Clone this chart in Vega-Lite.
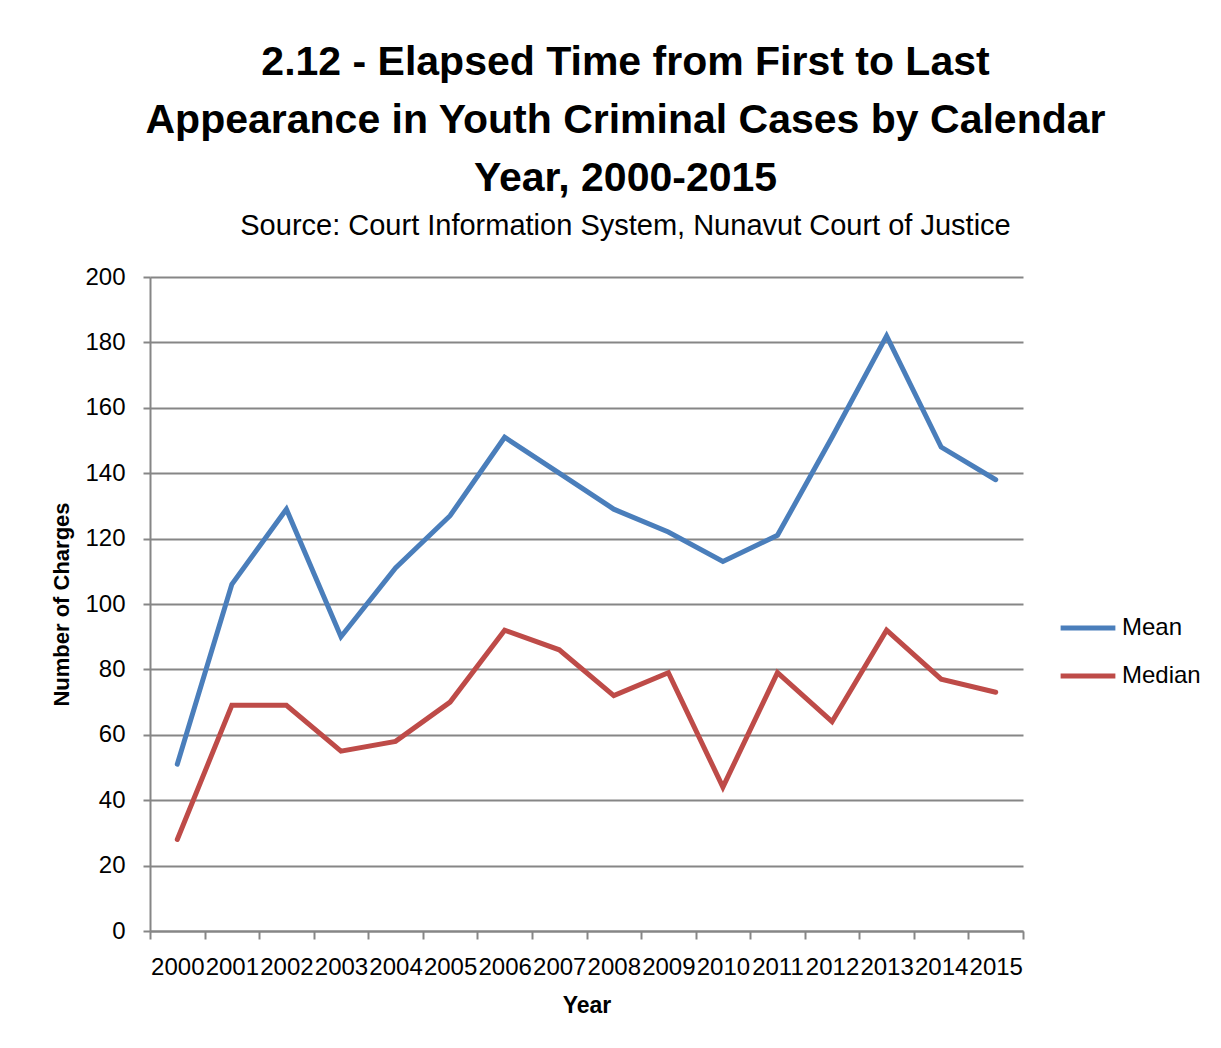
{
  "$schema": "https://vega.github.io/schema/vega-lite/v6.json",
  "width": 873,
  "height": 654,
  "autosize": {"type": "none"},
  "padding": {"left": 150, "top": 277, "right": 198, "bottom": 117},
  "background": "white",
  "title": {
    "text": ["2.12 - Elapsed Time from First to Last", "Appearance in Youth Criminal Cases by Calendar", "Year, 2000-2015"],
    "subtitle": "Source: Court Information System, Nunavut Court of Justice",
    "anchor": "middle",
    "frame": "group",
    "dx": 39,
    "offset": 23,
    "font": "Liberation Sans",
    "fontSize": 41,
    "fontWeight": "bold",
    "lineHeight": 58,
    "color": "black",
    "subtitleFont": "Liberation Sans",
    "subtitleFontSize": 29,
    "subtitleColor": "black",
    "subtitlePadding": 12
  },
  "data": {
    "values": [
      {"year": "2000", "series": "Mean", "value": 51},
      {"year": "2001", "series": "Mean", "value": 106},
      {"year": "2002", "series": "Mean", "value": 129},
      {"year": "2003", "series": "Mean", "value": 90},
      {"year": "2004", "series": "Mean", "value": 111},
      {"year": "2005", "series": "Mean", "value": 127},
      {"year": "2006", "series": "Mean", "value": 151},
      {"year": "2007", "series": "Mean", "value": 140},
      {"year": "2008", "series": "Mean", "value": 129},
      {"year": "2009", "series": "Mean", "value": 122},
      {"year": "2010", "series": "Mean", "value": 113},
      {"year": "2011", "series": "Mean", "value": 121},
      {"year": "2012", "series": "Mean", "value": 151},
      {"year": "2013", "series": "Mean", "value": 182},
      {"year": "2014", "series": "Mean", "value": 148},
      {"year": "2015", "series": "Mean", "value": 138},
      {"year": "2000", "series": "Median", "value": 28},
      {"year": "2001", "series": "Median", "value": 69},
      {"year": "2002", "series": "Median", "value": 69},
      {"year": "2003", "series": "Median", "value": 55},
      {"year": "2004", "series": "Median", "value": 58},
      {"year": "2005", "series": "Median", "value": 70},
      {"year": "2006", "series": "Median", "value": 92},
      {"year": "2007", "series": "Median", "value": 86},
      {"year": "2008", "series": "Median", "value": 72},
      {"year": "2009", "series": "Median", "value": 79},
      {"year": "2010", "series": "Median", "value": 44},
      {"year": "2011", "series": "Median", "value": 79},
      {"year": "2012", "series": "Median", "value": 64},
      {"year": "2013", "series": "Median", "value": 92},
      {"year": "2014", "series": "Median", "value": 77},
      {"year": "2015", "series": "Median", "value": 73}
    ]
  },
  "mark": {"type": "line", "strokeWidth": 5, "strokeCap": "round", "strokeJoin": "miter"},
  "encoding": {
    "x": {
      "field": "year",
      "type": "ordinal",
      "scale": {"type": "band", "paddingInner": 0, "paddingOuter": 0},
      "axis": {
        "title": "Year",
        "titleFont": "Liberation Sans",
        "titleFontSize": 23,
        "titleFontWeight": "bold",
        "titleColor": "black",
        "titlePadding": 15,
        "labelAngle": 0,
        "labelFont": "Liberation Sans",
        "labelFontSize": 24,
        "labelColor": "black",
        "labelPadding": 16,
        "labelOverlap": false,
        "tickBand": "extent",
        "tickSize": 8,
        "tickWidth": 2,
        "tickColor": "#868686",
        "domainColor": "#868686",
        "domainWidth": 2,
        "grid": false
      }
    },
    "y": {
      "field": "value",
      "type": "quantitative",
      "scale": {"domain": [0, 200]},
      "axis": {
        "title": "Number of Charges",
        "titleFont": "Liberation Sans",
        "titleFontSize": 22,
        "titleFontWeight": "bold",
        "titleColor": "black",
        "titlePadding": 11,
        "values": [0, 20, 40, 60, 80, 100, 120, 140, 160, 180, 200],
        "labelFont": "Liberation Sans",
        "labelFontSize": 24,
        "labelColor": "black",
        "labelPadding": 18,
        "tickSize": 7,
        "tickWidth": 2,
        "tickColor": "#868686",
        "domainColor": "#868686",
        "domainWidth": 2,
        "grid": true,
        "gridColor": "#868686",
        "gridWidth": 2
      }
    },
    "color": {
      "field": "series",
      "type": "nominal",
      "scale": {"domain": ["Mean", "Median"], "range": ["#4A7EBB", "#BE4B48"]},
      "legend": {
        "title": null,
        "orient": "none",
        "legendX": 908,
        "legendY": 321,
        "symbolType": "stroke",
        "symbolSize": 3000,
        "symbolStrokeWidth": 5,
        "labelFont": "Liberation Sans",
        "labelFontSize": 24,
        "labelColor": "black",
        "labelOffset": 4,
        "rowPadding": 6
      }
    }
  },
  "config": {"view": {"stroke": null}}
}
